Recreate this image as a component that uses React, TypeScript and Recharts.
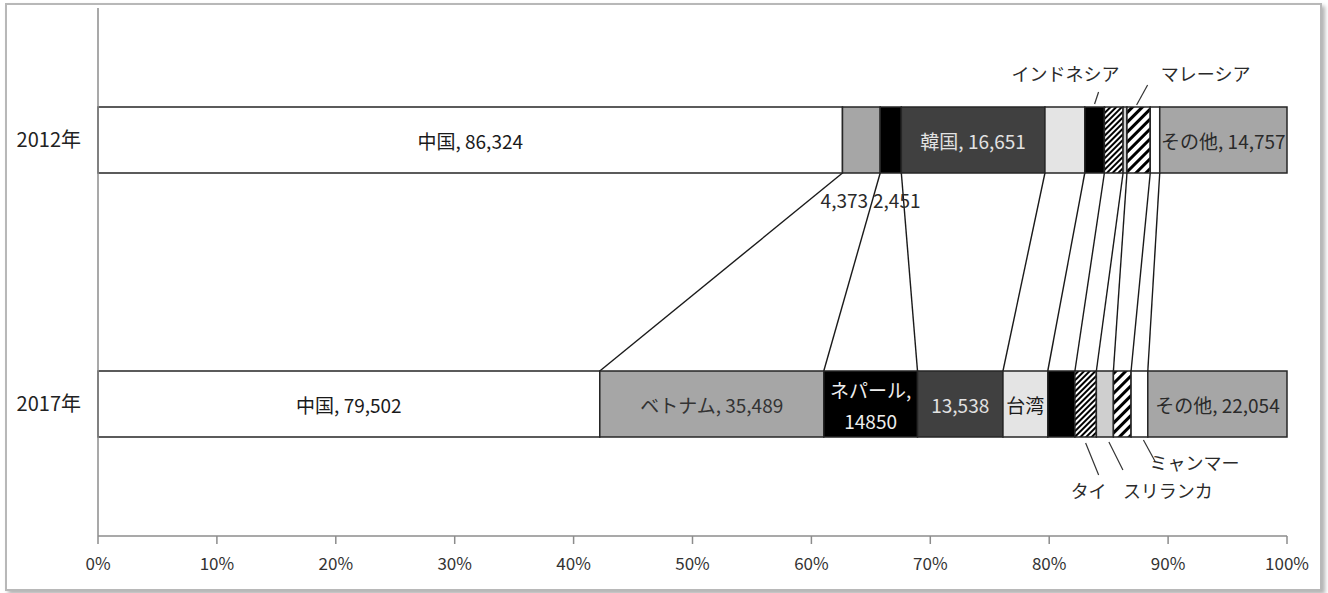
import React from "react";
import * as R from "recharts";

const { Bar, BarChart, LabelList, XAxis, YAxis } = R;

// ---- data ----
const years = ["2012年", "2017年"];
const countries = [
  "中国",
  "ベトナム",
  "ネパール",
  "韓国",
  "台湾",
  "インドネシア",
  "タイ",
  "スリランカ",
  "マレーシア",
  "ミャンマー",
  "その他",
];
const values2012 = [86324, 4373, 2451, 16651, 4617, 2276, 2167, 450, 2700, 1100, 14757];
const values2017 = [79502, 35489, 14850, 13538, 7100, 4300, 3400, 2700, 2800, 2650, 22054];
const xTicks = [0, 0.1, 0.2, 0.3, 0.4, 0.5, 0.6, 0.7, 0.8, 0.9, 1];

const valuesByYear = [values2012, values2017];

// what goes inside each segment: nv = "name, value", v = value, n = name, nv2 = two lines
const inBar2012: Record<string, string> = { 中国: "nv", 韓国: "nv", その他: "nv" };
const inBar2017: Record<string, string> = {
  中国: "nv",
  ベトナム: "nv",
  ネパール: "nv2",
  韓国: "v",
  台湾: "n",
  その他: "nv",
};
const inBarByYear = [inBar2012, inBar2017];

const rows = years.map((year, yi) => {
  const row: Record<string, string | number> = { year };
  countries.forEach((c, ci) => (row[c] = valuesByYear[yi][ci]));
  return row;
});

// ---- styling ----
const W = 1328;
const H = 593;
const MARGIN = { top: 8, right: 41, bottom: 17, left: 8 };
const Y_AXIS_W = 90;
const X_AXIS_H = 40;
const BAR_SIZE = 66;
const FONT = "'Noto Sans CJK JP', 'Noto Sans', sans-serif";
const LABEL_SIZE = 19;

const fills: Record<string, string> = {
  中国: "#ffffff",
  ベトナム: "#a6a6a6",
  ネパール: "#000000",
  韓国: "#404040",
  台湾: "#e4e4e4",
  インドネシア: "#000000",
  タイ: "url(#hatchDense)",
  スリランカ: "#cfcfcf",
  マレーシア: "url(#hatchWide)",
  ミャンマー: "#ffffff",
  その他: "#a6a6a6",
};
const textColors: Record<string, string> = {
  中国: "#1a1a1a",
  ベトナム: "#333333",
  ネパール: "#eeeeee",
  韓国: "#e2e2e2",
  台湾: "#1a1a1a",
  その他: "#2a2a2a",
};

// call-outs outside the bars (offsets from segment centre / bar edge)
const notes = [
  { yi: 0, c: "ベトナム", show: "v", dx: -17, dy: 26, edge: "bottom", leader: null },
  { yi: 0, c: "ネパール", show: "v", dx: 6, dy: 26, edge: "bottom", leader: null },
  { yi: 0, c: "インドネシア", show: "n", dx: -29, dy: -34, edge: "top", leader: [4, -15, 0, -3] },
  { yi: 0, c: "マレーシア", show: "n", dx: 67, dy: -34, edge: "top", leader: [9, -22, -2, -2] },
  { yi: 1, c: "タイ", show: "n", dx: 3, dy: 53, edge: "bottom", leader: [0, 6, 13, 38] },
  { yi: 1, c: "スリランカ", show: "n", dx: 63, dy: 53, edge: "bottom", leader: [4, 5, 18, 33] },
  { yi: 1, c: "ミャンマー", show: "n", dx: 55, dy: 25, edge: "bottom", leader: [4, 3, 16, 25] },
];

const fmt = (v: number) => v.toLocaleString("en-US");

function fallbackPlot() {
  const x = MARGIN.left + Y_AXIS_W;
  return {
    x,
    y: MARGIN.top,
    width: W - x - MARGIN.right,
    height: H - MARGIN.top - MARGIN.bottom - X_AXIS_H,
  };
}
const usePlotAreaSafe: () => any = (R as any).usePlotArea ?? (() => null);

function cumFractions(vals: number[]) {
  const total = vals.reduce((a, b) => a + b, 0);
  const out = [0];
  vals.forEach((v) => out.push(out[out.length - 1] + v / total));
  return out;
}

function Overlay() {
  const area = usePlotAreaSafe() ?? fallbackPlot();
  const band = area.height / years.length;
  const rowTop = (i: number) => area.y + band * i + Math.floor((band - BAR_SIZE) / 2);
  const xAt = (f: number) => area.x + f * area.width;
  const cums = valuesByYear.map(cumFractions);

  const connectors = countries.slice(0, -1).map((c, i) => (
    <line
      key={c}
      x1={xAt(cums[0][i + 1])}
      y1={rowTop(0) + BAR_SIZE}
      x2={xAt(cums[1][i + 1])}
      y2={rowTop(1)}
      stroke="#1a1a1a"
      strokeWidth={1.4}
    />
  ));

  const callouts = notes.map((n) => {
    const ci = countries.indexOf(n.c);
    const cx = xAt((cums[n.yi][ci] + cums[n.yi][ci + 1]) / 2);
    const ey = n.edge === "top" ? rowTop(n.yi) : rowTop(n.yi) + BAR_SIZE;
    const text = n.show === "v" ? fmt(valuesByYear[n.yi][ci]) : n.c;
    return (
      <g key={n.c + n.yi}>
        {n.leader && (
          <line
            x1={cx + n.leader[0]}
            y1={ey + n.leader[1]}
            x2={cx + n.leader[2]}
            y2={ey + n.leader[3]}
            stroke="#333"
            strokeWidth={1.2}
          />
        )}
        <text
          x={cx + n.dx}
          y={ey + n.dy}
          textAnchor="middle"
          dominantBaseline="central"
          fontSize={n.show === "v" ? LABEL_SIZE : 18}
          fill="#2a2a2a"
        >
          {text}
        </text>
      </g>
    );
  });

  return (
    <g>
      {connectors}
      {callouts}
    </g>
  );
}

function makeInBarLabel(c: string) {
  const ci = countries.indexOf(c);
  return (props: any) => {
    const vb = props.viewBox ?? props;
    const { x, y, width, height } = vb;
    const yi = props.index;
    const mode = inBarByYear[yi]?.[c];
    if (!mode) return null;
    const v = valuesByYear[yi][ci];
    const cx = x + width / 2;
    const cy = y + height / 2;
    const color = textColors[c] ?? "#222";
    if (mode === "nv2") {
      return (
        <g>
          <text x={cx} y={cy - 15} textAnchor="middle" dominantBaseline="central" fontSize={LABEL_SIZE} fill={color}>
            {c},
          </text>
          <text x={cx} y={cy + 16} textAnchor="middle" dominantBaseline="central" fontSize={LABEL_SIZE} fill={color}>
            {String(v)}
          </text>
        </g>
      );
    }
    const text = mode === "nv" ? `${c}, ${fmt(v)}` : mode === "v" ? fmt(v) : c;
    return (
      <text x={cx} y={cy} textAnchor="middle" dominantBaseline="central" fontSize={LABEL_SIZE} fill={color}>
        {text}
      </text>
    );
  };
}

export default function App() {
  return (
    <div
      style={{
        position: "absolute",
        left: 0,
        top: 0,
        width: W,
        height: H,
        background: "#fff",
        fontFamily: FONT,
      }}
    >
      <div
        style={{
          position: "absolute",
          left: 5,
          top: 3,
          width: 1313,
          height: 584,
          border: "2px solid #b8b8b8",
          boxShadow: "3px 3px 4px rgba(0,0,0,0.3)",
        }}
      />
      <div style={{ position: "absolute", left: 0, top: 0 }}>
        <BarChart
          width={W}
          height={H}
          data={rows}
          layout="vertical"
          stackOffset="expand"
          margin={MARGIN}
        >
          <defs>
            <pattern id="hatchDense" patternUnits="userSpaceOnUse" width={4} height={4} patternTransform="rotate(45)">
              <rect width={4} height={4} fill="#fff" />
              <rect width={2} height={4} fill="#000" />
            </pattern>
            <pattern id="hatchWide" patternUnits="userSpaceOnUse" width={7} height={7} patternTransform="rotate(45)">
              <rect width={7} height={7} fill="#fff" />
              <rect width={3} height={7} fill="#000" />
            </pattern>
          </defs>
          <XAxis
            type="number"
            domain={[0, 1]}
            ticks={xTicks}
            interval={0}
            tickFormatter={(v: number) => `${Math.round(v * 100)}%`}
            height={X_AXIS_H}
            stroke="#8c8c8c"
            strokeWidth={1.5}
            tickSize={8}
            tickMargin={14}
            tick={{ fill: "#333", fontSize: 17 }}
          />
          <YAxis
            type="category"
            dataKey="year"
            width={Y_AXIS_W}
            stroke="#8c8c8c"
            strokeWidth={1.5}
            tickLine={false}
            tickSize={0}
            tickMargin={17}
            tick={{ fill: "#222", fontSize: 20 }}
          />
          {countries.map((c) => (
            <Bar
              key={c}
              dataKey={c}
              stackId="s"
              fill={fills[c]}
              stroke="#262626"
              strokeWidth={1.5}
              barSize={BAR_SIZE}
              isAnimationActive={false}
            >
              <LabelList dataKey={c} content={makeInBarLabel(c)} />
            </Bar>
          ))}
          <Overlay />
        </BarChart>
      </div>
    </div>
  );
}
